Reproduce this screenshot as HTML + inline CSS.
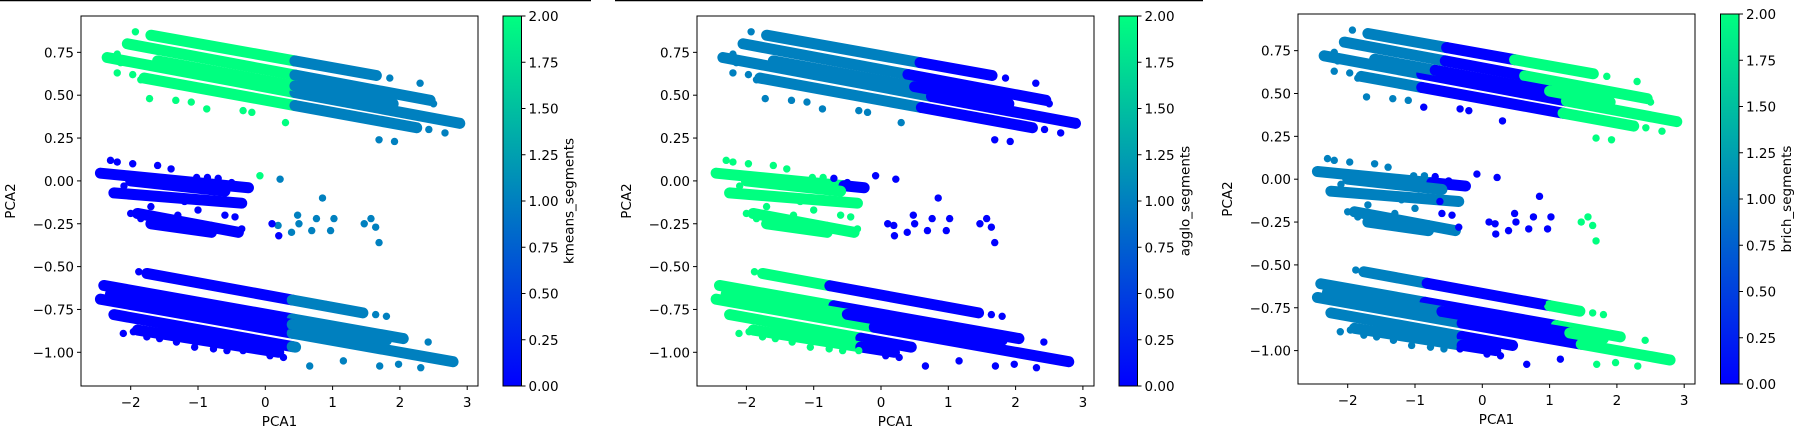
<!DOCTYPE html>
<html><head><meta charset="utf-8"><style>
body{margin:0;background:#fff;width:1809px;height:438px;overflow:hidden}
svg text{font-family:"DejaVu Sans","Liberation Sans",sans-serif;font-size:13.5px;fill:#000}
</style></head><body>
<svg id="fig" width="1809" height="438" xmlns="http://www.w3.org/2000/svg">
<line x1="0" y1="0.5" x2="591" y2="0.5" stroke="#000" stroke-width="1.5"/>
<line x1="615" y1="0.5" x2="1203" y2="0.5" stroke="#000" stroke-width="1.5"/>
<defs><linearGradient id="winter" x1="0" y1="1" x2="0" y2="0"><stop offset="0" stop-color="#0000ff"/><stop offset="1" stop-color="#00ff80"/></linearGradient></defs>
</svg>
<script>
// stripe geometry (dense bands of points): x0, y0, x1, y1
const stripeNames = ["T1","T2","T3","T4","T5","M1","M2","M3","M4","M5","B1","B2","B3","B4","B5","B6"];
const stripeX0 = [-1.70,-2.05,-2.35,-1.80,-1.60,-2.45,-2.25,-1.90,-2.00,-1.70,-1.76,-2.40,-2.45,-2.25,-2.30,-1.90];
const stripeY0 = [0.85,0.80,0.72,0.60,0.70,0.045,-0.07,-0.19,0.00,-0.25,-0.54,-0.61,-0.69,-0.78,-0.66,-0.87];
const stripeX1 = [1.65,2.45,2.89,2.25,1.90,-0.25,-0.35,-0.40,-0.60,-0.80,1.45,2.05,2.79,0.45,1.80,0.20];
const stripeY1 = [0.615,0.47,0.336,0.31,0.45,-0.04,-0.13,-0.30,-0.06,-0.30,-0.77,-0.92,-1.055,-0.97,-0.93,-1.00];
// per-panel segment labels along stripes: [startX, label]
const kmeansPieces = [[[-9,2],[0.44,1]],[[-9,2],[0.44,1]],[[-9,2],[0.44,1]],[[-9,2],[0.44,1]],[[-9,2],[0.44,1]],[[-9,0]],[[-9,0]],[[-9,0]],[[-9,0]],[[-9,0]],[[-9,0],[0.4,1]],[[-9,0],[0.4,1]],[[-9,0],[0.4,1]],[[-9,0],[0.4,1]],[[-9,0],[0.4,1]],[[-9,0]]];
const aggloPieces = [[[-9,1],[0.58,0]],[[-9,1],[0.4,0]],[[-9,1],[0.75,0]],[[-9,1],[0.6,0]],[[-9,1],[0.5,0]],[[-9,2],[-0.55,0]],[[-9,2]],[[-9,2]],[[-9,2]],[[-9,2]],[[-9,2],[-0.76,0]],[[-9,2],[-0.7,0]],[[-9,2],[-0.1,0]],[[-9,2],[-0.3,0]],[[-9,2],[-0.5,0]],[[-9,2],[-0.3,0]]];
const brichPieces = [[[-9,1],[-0.53,0],[0.48,2]],[[-9,1],[-0.55,0],[0.63,2]],[[-9,1],[-0.9,0],[1.25,2]],[[-9,1],[-0.9,0],[1.2,2]],[[-9,1],[-0.7,0],[1.0,2]],[[-9,1],[-0.75,0]],[[-9,1]],[[-9,1]],[[-9,1]],[[-9,1]],[[-9,1],[-0.82,0],[1.0,2]],[[-9,1],[-0.85,0],[1.1,2]],[[-9,1],[-0.3,0],[1.47,2]],[[-9,1],[-0.3,0]],[[-9,1],[-0.6,0],[1.3,2]],[[-9,1],[-0.3,0]]];
// individual scattered points
const ptX = [-1.93,-2.33,-2.2,-2.15,-2.2,-1.97,-1.85,-1.72,-1.33,-1.1,-0.87,-0.33,-0.2,0.30,1.69,1.92,1.85,2.3,2.5,2.67,2.43,
 -2.3,-2.2,-1.97,-1.6,-1.4,-1.02,-0.86,-0.7,-0.5,-0.25,-1.5,-1.2,-0.95,-0.63,-2.0,-1.85,-1.3,-1.0,-0.6,-0.45,-0.35,-2.1,-1.7,-1.25,-0.8,
 -0.08,0.22,0.85,0.48,0.19,0.39,0.50,0.69,0.76,0.97,1.02,1.47,1.57,1.64,1.69,0.20,0.10,
 -1.88,-2.11,-1.96,-1.76,-1.57,-1.32,-1.05,-0.77,-0.57,-0.33,0.07,0.27,0.66,1.16,1.70,1.98,2.31,1.64,1.80,2.05,2.42,0.89,1.20];
const ptY = [0.87,0.72,0.74,0.69,0.63,0.62,0.59,0.48,0.47,0.46,0.42,0.41,0.40,0.34,0.24,0.23,0.60,0.57,0.45,0.28,0.30,
 0.12,0.11,0.10,0.09,0.07,0.02,0.02,0.015,-0.01,-0.035,-0.10,-0.12,-0.10,-0.13,-0.19,-0.22,-0.20,-0.17,-0.20,-0.21,-0.28,-0.03,-0.15,-0.25,-0.26,
 0.03,0.01,-0.10,-0.20,-0.26,-0.30,-0.25,-0.29,-0.22,-0.29,-0.22,-0.25,-0.22,-0.27,-0.36,-0.32,-0.25,
 -0.53,-0.89,-0.88,-0.91,-0.92,-0.94,-0.97,-0.98,-0.99,-0.99,-1.02,-1.03,-1.08,-1.05,-1.08,-1.07,-1.09,-0.78,-0.79,-0.91,-0.94,-0.72,-0.75];
const kmeansLabels = [2,2,2,2,2,2,2,2,2,2,2,2,2,2,1,1,1,1,1,1,1, 0,0,0,0,0,0,0,0,0,0,0,0,0,0,0,0,0,0,0,0,0,0,0,0,0, 2,1,1,1,1,1,1,1,1,1,1,1,1,1,1,0,0, 0,0,0,0,0,0,0,0,0,0,0,0,1,1,1,1,1,1,1,1,1,1,1];
const aggloLabels = [1,1,1,1,1,1,1,1,1,1,1,1,1,1,0,0,0,0,0,0,0, 2,2,2,2,2,2,2,0,0,0,2,2,2,2,2,2,2,2,2,2,2,2,2,2,2, 0,0,0,0,0,0,0,0,0,0,0,0,0,0,0,0,0, 2,2,2,2,2,2,2,2,2,2,0,0,0,0,0,0,0,0,0,0,0,0,0];
const brichLabels = [1,1,1,1,1,1,1,1,1,1,0,0,0,0,2,2,2,2,2,2,2, 1,1,1,1,1,1,1,0,0,0,1,1,1,0,1,1,1,1,0,0,0,1,1,1,1, 0,0,0,0,0,0,0,0,0,0,0,2,2,2,2,0,0, 1,1,1,1,1,1,1,1,1,0,0,0,0,0,2,2,2,2,2,2,2,0,2];
const xTicks = [-2,-1,0,1,2,3];
const yTicks = [0.75,0.5,0.25,0,-0.25,-0.5,-0.75,-1.0];
const cbTicks = [0,0.25,0.5,0.75,1.0,1.25,1.5,1.75,2.0];
const colors = ["#0000ff","#0080bf","#00ff80"];

const NS = "http://www.w3.org/2000/svg";
const svg = document.getElementById("fig");
function mk(tag, attrs, parent, txt){const e=document.createElementNS(NS,tag);for(const k in attrs)e.setAttribute(k,attrs[k]);if(txt!==undefined)e.textContent=txt;(parent||svg).appendChild(e);return e;}
function fmt2(v){const s=Math.abs(v).toFixed(2);return (v<0?"\u2212":"")+s;}

const panels = [
 {left:81,top:16,x0:265.3,y0:180.9,cbL:503,pieces:kmeansPieces,labels:kmeansLabels,name:"kmeans",cbLabel:"kmeans_segments"},
 {left:697,top:16,x0:881,y0:180.9,cbL:1119,pieces:aggloPieces,labels:aggloLabels,name:"agglo",cbLabel:"agglo_segments"},
 {left:1298,top:14,x0:1482.3,y0:179.2,cbL:1720.5,pieces:brichPieces,labels:brichLabels,name:"brich",cbLabel:"brich_segments"}
];
const W=397,H=370,SX=67.3,SY=171.4;

panels.forEach(p=>{
 const g=mk("g",{});
 
 
 const xs=v=>p.x0+v*SX, ys=v=>p.y0-v*SY;
 const clip=mk("clipPath",{id:"clip-"+p.name},g);
 mk("rect",{x:p.left,y:p.top,width:W,height:H},clip);
 const marks=mk("g",{"clip-path":"url(#clip-"+p.name+")"},g);
 
 
 stripeNames.forEach((sn,i)=>{
  const pcs=p.pieces[i];
  const yAt=x=>stripeY0[i]+(stripeY1[i]-stripeY0[i])*(x-stripeX0[i])/(stripeX1[i]-stripeX0[i]);
  pcs.forEach((pc,j)=>{
   const a=Math.max(pc[0],stripeX0[i]);
   const b=j+1<pcs.length?Math.min(pcs[j+1][0],stripeX1[i]):stripeX1[i];
   if(b<=a) return;
   const l=mk("line",{x1:xs(a),y1:ys(yAt(a)),x2:xs(b),y2:ys(yAt(b)),stroke:colors[pc[1]],"stroke-width":11,"stroke-linecap":"round"},marks);
   
   
  });
 });
 ptX.forEach((x,i)=>{
  const c=mk("circle",{cx:xs(x),cy:ys(ptY[i]),r:3.7,fill:colors[p.labels[i]]},marks);
  
  
 });
 const fr=mk("rect",{x:p.left,y:p.top,width:W,height:H,fill:"none",stroke:"#000","stroke-width":1},g);
 
 
 xTicks.forEach(t=>{
  mk("line",{x1:xs(t),y1:p.top+H,x2:xs(t),y2:p.top+H+4,stroke:"#000"},g);
  const tx=mk("text",{x:xs(t),y:p.top+H+21,"text-anchor":"middle"},g,t<0?"\u2212"+(-t):String(t));
  
  
 });
 yTicks.forEach(t=>{
  mk("line",{x1:p.left-4,y1:ys(t),x2:p.left,y2:ys(t),stroke:"#000"},g);
  const tx=mk("text",{x:p.left-7,y:ys(t)+5,"text-anchor":"end"},g,fmt2(t));
  
  
 });
 const xl=mk("text",{x:p.left+W/2,y:p.top+H+40,"text-anchor":"middle"},g,"PCA1");
 
 
 const yx=p.left-66, yy=p.top+H/2;
 const yl=mk("text",{x:yx,y:yy,"text-anchor":"middle",transform:"rotate(-90 "+yx+" "+yy+")"},g,"PCA2");
 
 
 const cb=mk("rect",{x:p.cbL,y:p.top,width:18.5,height:H,fill:"url(#winter)",stroke:"#000","stroke-width":1},g);
 
 
 const cbR=p.cbL+18.5;
 cbTicks.forEach(t=>{
  const y=p.top+H-t/2*H;
  mk("line",{x1:cbR,y1:y,x2:cbR+4,y2:y,stroke:"#000"},g);
  const tx=mk("text",{x:cbR+7,y:y+5},g,t.toFixed(2));
  
  
 });
 const lx=cbR+52;
 const cl=mk("text",{x:lx,y:yy,"text-anchor":"middle",transform:"rotate(-90 "+lx+" "+yy+")"},g,p.cbLabel);
 
 
});
</script>
</body></html>
